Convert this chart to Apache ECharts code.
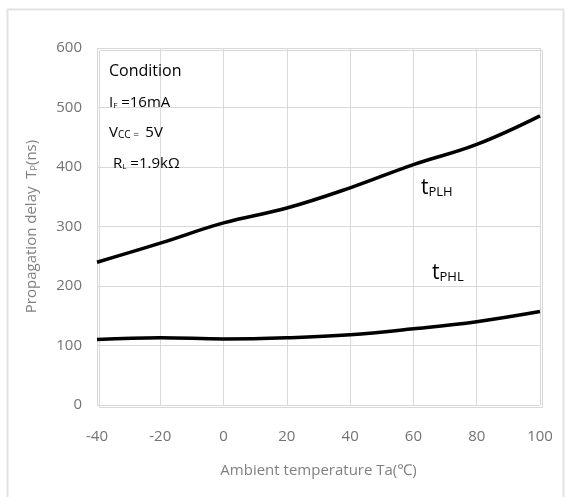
<!DOCTYPE html>
<html>
<head>
<meta charset="utf-8">
<script src="https://cdn.jsdelivr.net/npm/echarts@6/dist/echarts.min.js"></script>
<style>
  html, body { margin: 0; padding: 0; background: #fff; }
  #chart { width: 566px; height: 497px; }
</style>
</head>
<body>
<div id="chart"></div>
<script>
// temperature (°C) and propagation delay (ns)
var temps = [-40, -20, 0, 20, 40, 60, 80, 100]
var tplh = [240, 272, 306, 331, 365, 404, 438, 486]
var tphl = [110, 113, 111, 113, 118, 128, 140, 157]
var yTicks = [0, 600, 100]

var chart = echarts.init(document.getElementById('chart'))

function pairs(ys) {
  return temps.map(function (t, i) { return [t, ys[i]] })
}

var font = '"Open Sans", "Noto Sans", sans-serif'

// annotation text with a small subscript part
function note(left, top, text, size, subSize) {
  return {
    type: 'text', left: left, top: top, z: 100,
    style: {
      text: text, fill: '#000', fontSize: size, fontFamily: font,
      rich: {
        s: { fontSize: subSize, fontFamily: font, fill: '#000', padding: [size - subSize, 0, 0, 0] }
      }
    }
  }
}

chart.setOption({
  animation: false,
  grid: {
    left: 97,
    right: 26,
    top: 48,
    bottom: 92
  },
  xAxis: {
    type: 'value',
    min: -40,
    max: 100,
    interval: 20,
    name: 'Ambient temperature Ta(\u2103)',
    nameLocation: 'middle',
    nameGap: 58,
    nameTextStyle: { color: '#808080', fontSize: 15, fontFamily: font },
    axisLine: { show: false },
    axisTick: { show: false },
    axisLabel: { color: '#737373', fontSize: 15, fontFamily: font, margin: 24 },
    splitLine: { show: true, lineStyle: { color: '#d9d9d9', width: 1 } }
  },
  yAxis: {
    type: 'value',
    min: yTicks[0],
    max: yTicks[1],
    interval: yTicks[2],
    name: 'Propagation delay  T{s|P}(ns)',
    nameLocation: 'middle',
    nameGap: 58,
    nameTextStyle: {
      color: '#808080', fontSize: 15, fontFamily: font,
      rich: { s: { fontSize: 9, color: '#808080', fontFamily: font, padding: [6, 0, 0, 0] } }
    },
    axisLine: { show: false },
    axisTick: { show: false },
    axisLabel: { color: '#737373', fontSize: 15, fontFamily: font, margin: 15 },
    splitLine: { show: true, lineStyle: { color: '#d9d9d9', width: 1 } }
  },
  graphic: [
    {
      type: 'rect',
      left: 5, top: 7,
      shape: { width: 556, height: 500 },
      style: { fill: 'none', stroke: '#e3e3e3', lineWidth: 2 },
      silent: true
    },
    {
      type: 'rect',
      left: 97, top: 48,
      shape: { width: 443, height: 357 },
      style: { fill: 'none', stroke: '#d9d9d9', lineWidth: 1 },
      silent: true,
      z: 1
    },
    {
      type: 'text', left: 109, top: 63, z: 100,
      style: { text: 'Condition', fill: '#000', fontSize: 16, fontFamily: font }
    },
    note(109, 95, 'I{s|F} =16mA', 15, 8),
    note(109, 125, 'V{s|CC = } 5V', 15, 10),
    note(113, 156, 'R{s|L} =1.9k\u03a9', 15, 8),
    note(421, 178, 't{s|PLH}', 21, 13),
    note(432, 263, 't{s|PHL}', 21, 13)
  ],
  series: [
    {
      name: 'tPLH',
      type: 'line',
      smooth: 0.4,
      showSymbol: false,
      lineStyle: { color: '#000', width: 3.5 },
      data: pairs(tplh)
    },
    {
      name: 'tPHL',
      type: 'line',
      smooth: 0.4,
      showSymbol: false,
      lineStyle: { color: '#000', width: 3.5 },
      data: pairs(tphl)
    }
  ]
})
</script>
</body>
</html>
